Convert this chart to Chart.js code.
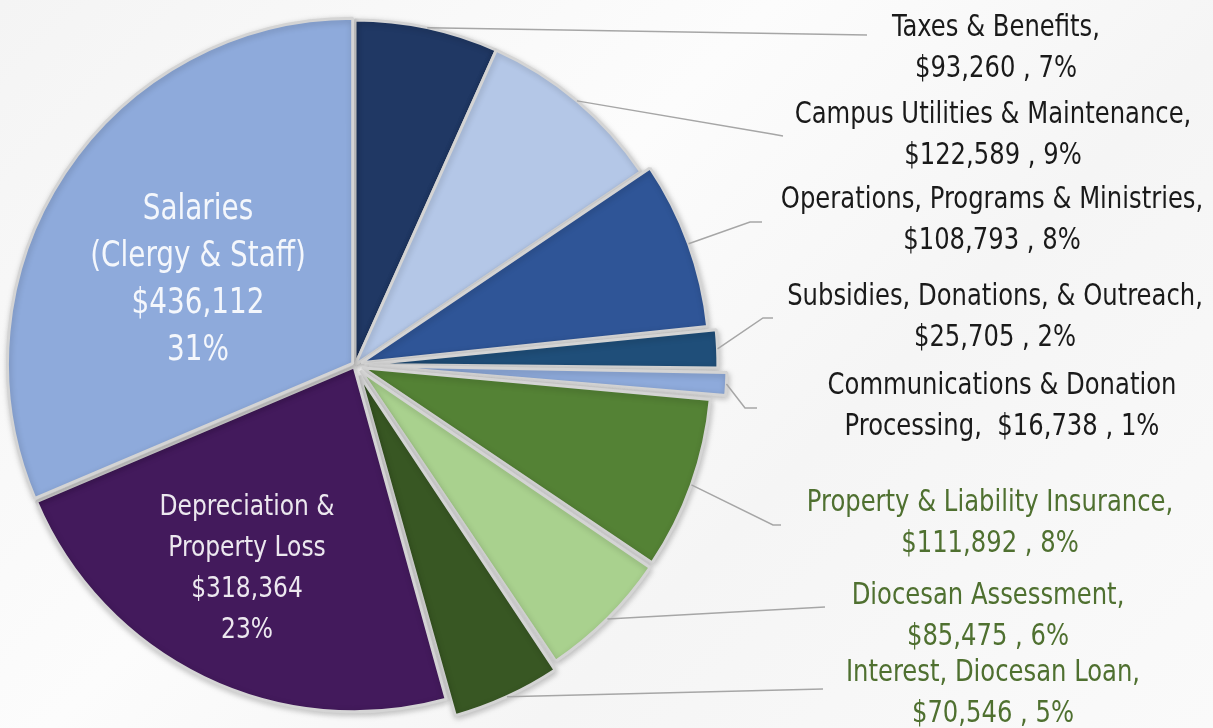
<!DOCTYPE html>
<html>
<head>
<meta charset="utf-8">
<title>Expenses</title>
<script src="https://cdn.jsdelivr.net/npm/chart.js@4"></script>
<style>
  html, body { margin: 0; padding: 0; }
  body {
    width: 1213px; height: 728px; overflow: hidden;
    background: linear-gradient(135deg, #f4f4f4 0%, #fcfcfc 40%, #f5f5f5 65%, #fafafa 100%);
  }
  #wrap { position: relative; width: 1213px; height: 728px; }
</style>
</head>
<body>
<div id="wrap"><canvas id="grafico"></canvas></div>
<script>
// Dados do gráfico
const categorias = [
  "Taxes & Benefits",
  "Campus Utilities & Maintenance",
  "Operations, Programs & Ministries",
  "Subsidies, Donations, & Outreach",
  "Communications & Donation Processing",
  "Property & Liability Insurance",
  "Diocesan Assessment",
  "Interest, Diocesan Loan",
  "Depreciation & Property Loss",
  "Salaries (Clergy & Staff)"
];
const valores = [93260, 122589, 108793, 25705, 16738, 111892, 85475, 70546, 318364, 436112];
const percentuais = ["7%", "9%", "8%", "2%", "1%", "8%", "6%", "5%", "23%", "31%"];

// Estilos
const cores = ["#203864", "#b4c7e7", "#2f5597", "#1f4e79", "#8eaadb",
               "#548235", "#a9d18e", "#385723", "#431a5c", "#8eaadb"];
// offset do Chart.js (desloca offset/4 e aumenta o raio)
const deslocamentos = [0, 0, 26, 38, 56, 32, 32, 47, 8, 11];

const FONTE = '"DejaVu Sans Condensed", "Liberation Sans Narrow", sans-serif';
const PRETO = "#1a1a1a";
const VERDE = "#4f7030";
const ESTICA = 1.12; // texto do original é mais alto e estreito

function dinheiro(v) {
  return "$" + v.toLocaleString("en-US");
}

// Rótulos externos: linhas de texto, centro do texto, cotovelo e fim da linha guia
const rotulosExternos = {
  0: { linhas: ["Taxes & Benefits,", dinheiro(valores[0]) + " , " + percentuais[0]], cx: 996, y: 28, cor: PRETO, cotovelo: null, fim: [867, 35] },
  1: { linhas: ["Campus Utilities & Maintenance,", dinheiro(valores[1]) + " , " + percentuais[1]], cx: 993, y: 115, cor: PRETO, cotovelo: [772, 134], fim: [783, 136] },
  2: { linhas: ["Operations, Programs & Ministries,", dinheiro(valores[2]) + " , " + percentuais[2]], cx: 992, y: 200, cor: PRETO, cotovelo: [750, 222], fim: [762, 222] },
  3: { linhas: ["Subsidies, Donations, & Outreach,", dinheiro(valores[3]) + " , " + percentuais[3]], cx: 995, y: 297, cor: PRETO, cotovelo: [763, 318], fim: [773, 318] },
  4: { linhas: ["Communications & Donation", "Processing,  " + dinheiro(valores[4]) + " , " + percentuais[4]], cx: 1002, y: 386, cor: PRETO, cotovelo: [745, 408], fim: [757, 408] },
  5: { linhas: ["Property & Liability Insurance,", dinheiro(valores[5]) + " , " + percentuais[5]], cx: 990, y: 503, cor: VERDE, cotovelo: [773, 525], fim: [781, 525] },
  6: { linhas: ["Diocesan Assessment,", dinheiro(valores[6]) + " , " + percentuais[6]], cx: 988, y: 596, cor: VERDE, cotovelo: null, fim: [825, 607] },
  7: { linhas: ["Interest, Diocesan Loan,", dinheiro(valores[7]) + " , " + percentuais[7]], cx: 993, y: 673, cor: VERDE, cotovelo: null, fim: [823, 689] }
};

// Rótulos internos
const rotulosInternos = {
  8: { linhas: ["Depreciation &", "Property Loss", dinheiro(valores[8]), percentuais[8]], cx: 247, y: 507, passo: 41, tam: 26 },
  9: { linhas: ["Salaries", "(Clergy & Staff)", dinheiro(valores[9]), percentuais[9]], cx: 198, y: 210, passo: 47, tam: 31 }
};

function textoAlto(ctx, texto, x, y) {
  ctx.save();
  ctx.translate(x, y);
  ctx.scale(1, ESTICA);
  ctx.fillText(texto, 0, 0);
  ctx.restore();
}

// Plugin para sombra das fatias
const sombraPlugin = {
  id: "sombra",
  beforeDatasetDraw(chart) {
    const ctx = chart.ctx;
    ctx.save();
    ctx.shadowColor = "rgba(0,0,0,0.22)";
    ctx.shadowBlur = 6;
    ctx.shadowOffsetX = 1;
    ctx.shadowOffsetY = 2;
  },
  afterDatasetDraw(chart) {
    chart.ctx.restore();
  }
};

// Plugin para rótulos e linhas guia
const rotulosPlugin = {
  id: "rotulos",
  afterDatasetsDraw(chart) {
    const ctx = chart.ctx;
    const arcos = chart.getDatasetMeta(0).data;
    ctx.save();

    arcos.forEach((arco, i) => {
      const r = rotulosExternos[i];
      if (!r) return;
      const meio = (arco.startAngle + arco.endAngle) / 2;
      const off = (deslocamentos[i] || 0) / 4;
      const fix = 1 - Math.sin(Math.min(Math.PI, arco.circumference));
      const raio = arco.outerRadius + off + off * fix;
      const x0 = arco.x + Math.cos(meio) * raio;
      const y0 = arco.y + Math.sin(meio) * raio;

      ctx.strokeStyle = "#a6a6a6";
      ctx.lineWidth = 1.5;
      ctx.beginPath();
      ctx.moveTo(x0, y0);
      if (r.cotovelo) ctx.lineTo(r.cotovelo[0], r.cotovelo[1]);
      ctx.lineTo(r.fim[0], r.fim[1]);
      ctx.stroke();

      ctx.fillStyle = r.cor;
      ctx.font = "27px " + FONTE;
      ctx.textAlign = "center";
      ctx.textBaseline = "middle";
      r.linhas.forEach((linha, k) => textoAlto(ctx, linha, r.cx, r.y + k * 41));
    });

    Object.keys(rotulosInternos).forEach((k) => {
      const r = rotulosInternos[k];
      ctx.fillStyle = "rgba(255,255,255,0.9)";
      ctx.font = r.tam + "px " + FONTE;
      ctx.textAlign = "center";
      ctx.textBaseline = "middle";
      r.linhas.forEach((linha, j) => textoAlto(ctx, linha, r.cx, r.y + j * r.passo));
    });

    ctx.restore();
  }
};

document.addEventListener("DOMContentLoaded", function () {
  const ctx = document.getElementById("grafico").getContext("2d");
  new Chart(ctx, {
    type: "pie",
    data: {
      labels: categorias,
      datasets: [{
        data: valores,
        backgroundColor: cores,
        borderColor: "#d4d4d4",
        borderWidth: 3,
        offset: deslocamentos
      }]
    },
    options: {
      responsive: true,
      maintainAspectRatio: false,
      animation: false,
      radius: 345,
      layout: { padding: { left: 0, right: 503, top: 2, bottom: 0 } },
      plugins: {
        legend: { display: false },
        tooltip: { enabled: false }
      }
    },
    plugins: [sombraPlugin, rotulosPlugin]
  });
});
</script>
</body>
</html>
